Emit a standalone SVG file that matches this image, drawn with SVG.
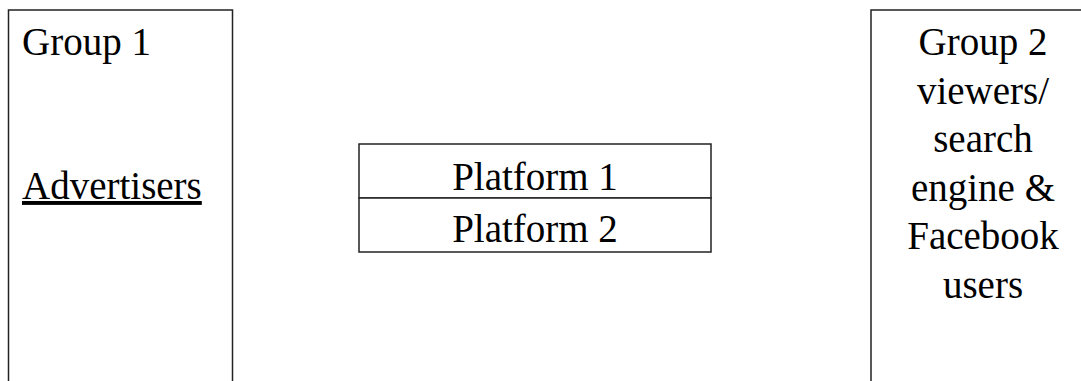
<svg xmlns="http://www.w3.org/2000/svg" width="1081" height="381" viewBox="0 0 1081 381">
<style>
.box{fill:#fff;stroke:#222;stroke-width:1.5}
.t{font-family:"Liberation Serif","Times New Roman",serif;font-size:39px;fill:#000}
.c{text-anchor:middle}
</style>
<rect width="1081" height="381" fill="#fff"/>
<g id="group1">
<rect class="box" x="8.5" y="10" width="224" height="380"/>
<text class="t" x="22" y="55">Group 1</text>
<text class="t" x="22" y="199" text-decoration="underline">Advertisers</text>
</g>
<g id="platforms">
<g id="platform1">
<rect class="box" x="359" y="144" width="352" height="54"/>
<text class="t c" x="535" y="190">Platform 1</text>
</g>
<g id="platform2">
<rect class="box" x="359" y="198" width="352" height="54"/>
<text class="t c" x="535" y="242">Platform 2</text>
</g>
</g>
<g id="group2">
<rect class="box" x="871" y="10" width="224" height="380"/>
<text class="t c" x="983" y="55">Group 2</text>
<text class="t c" x="983" y="103.5">viewers/</text>
<text class="t c" x="983" y="152">search</text>
<text class="t c" x="983" y="200.5">engine &amp;</text>
<text class="t c" x="983" y="249">Facebook</text>
<text class="t c" x="983" y="297.5">users</text>
</g>
<g id="connectors"></g>
</svg>
